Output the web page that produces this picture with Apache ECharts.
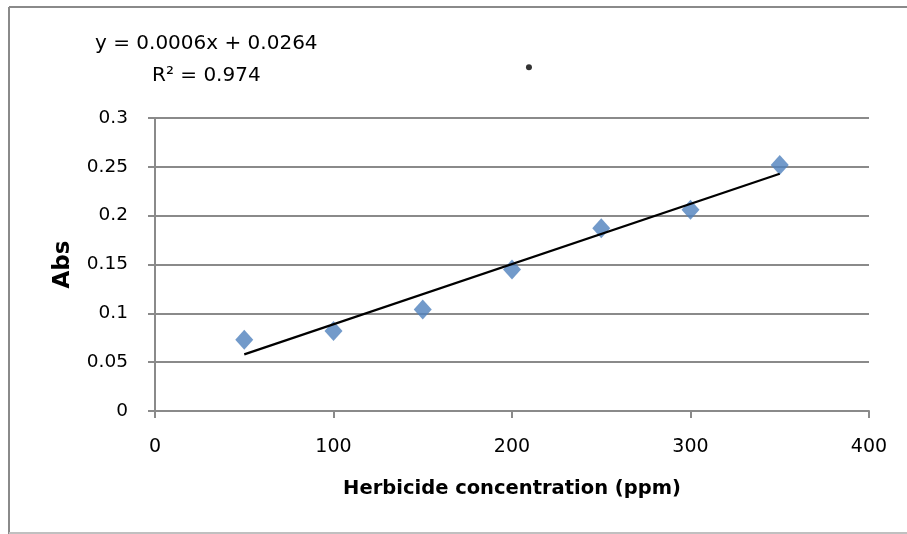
<!DOCTYPE html>
<html><head><meta charset="utf-8">
<script src="https://cdn.jsdelivr.net/npm/echarts@6/dist/echarts.min.js"></script>
<style>html,body{margin:0;padding:0;background:#fff}#c{width:907px;height:534px}</style>
</head><body><div id="c"></div>
<script>
const concentration = [50, 100, 150, 200, 250, 300, 350];
const absValues = [0.073, 0.082, 0.104, 0.145, 0.187, 0.206, 0.252];
const trendX = [50, 350];
const trendY = [0.058, 0.243];
const strayPoint = [209.5, 0.352];
const equationText = 'y = 0.0006x + 0.0264';
const r2Text = 'R² = 0.974';
const xTitle = 'Herbicide concentration (ppm)';
const yTitle = 'Abs';

const FONT = "'DejaVu Sans', sans-serif";
const chart = echarts.init(document.getElementById('c'), null, {renderer: 'canvas'});
chart.setOption({
  animation: false,
  backgroundColor: '#fff',
  grid: {left: 155, top: 118, width: 714, height: 293, containLabel: false},
  graphic: [
    {type: 'line', shape: {x1: 9, y1: 7, x2: 907, y2: 7}, style: {stroke: '#8a8a8a', lineWidth: 2}},
    {type: 'line', shape: {x1: 9, y1: 7, x2: 9, y2: 534}, style: {stroke: '#8a8a8a', lineWidth: 2}},
    {type: 'line', shape: {x1: 9, y1: 533, x2: 907, y2: 533}, style: {stroke: '#c0c0c0', lineWidth: 2}},
    {type: 'text', left: 95, top: 34, style: {text: equationText, font: "20px " + FONT, fill: '#000'}},
    {type: 'text', left: 152, top: 66, style: {text: r2Text, font: "20px " + FONT, fill: '#000'}}
  ],
  xAxis: {
    type: 'value', min: 0, max: 400, interval: 100,
    name: xTitle, nameLocation: 'middle', nameGap: 68,
    nameTextStyle: {fontFamily: FONT, fontSize: 19.5, fontWeight: 'bold', color: '#000'},
    axisLine: {show: true, lineStyle: {color: '#8a8a8a', width: 2}},
    axisTick: {show: true, length: 7, lineStyle: {color: '#8a8a8a', width: 2}},
    axisLabel: {fontFamily: FONT, fontSize: 19, color: '#000', margin: 27},
    splitLine: {show: false}
  },
  yAxis: {
    type: 'value', min: 0, max: 0.3, interval: 0.05,
    name: yTitle, nameLocation: 'middle', nameGap: 80, nameRotate: 90,
    nameTextStyle: {fontFamily: FONT, fontSize: 23, fontWeight: 'bold', color: '#000'},
    axisLine: {show: true, onZero: false, lineStyle: {color: '#8a8a8a', width: 2}},
    axisTick: {show: true, length: 7, lineStyle: {color: '#8a8a8a', width: 2}},
    axisLabel: {fontFamily: FONT, fontSize: 18.5, color: '#000', margin: 27,
      formatter: v => String(Math.round(v * 100) / 100)},
    splitLine: {show: true, lineStyle: {color: '#8a8a8a', width: 2}}
  },
  series: [
    {type: 'line', data: trendX.map((x, i) => [x, trendY[i]]), symbol: 'none',
      lineStyle: {color: '#000', width: 2.2}, z: 3},
    {type: 'scatter', data: concentration.map((x, i) => [x, absValues[i]]),
      symbol: 'diamond', symbolSize: [18, 20], itemStyle: {color: '#4f81bd'}, z: 2},
    {type: 'scatter', data: [strayPoint], symbol: 'circle', symbolSize: 6, clip: false,
      itemStyle: {color: '#000'}, z: 4}
  ]
});
</script></body></html>
